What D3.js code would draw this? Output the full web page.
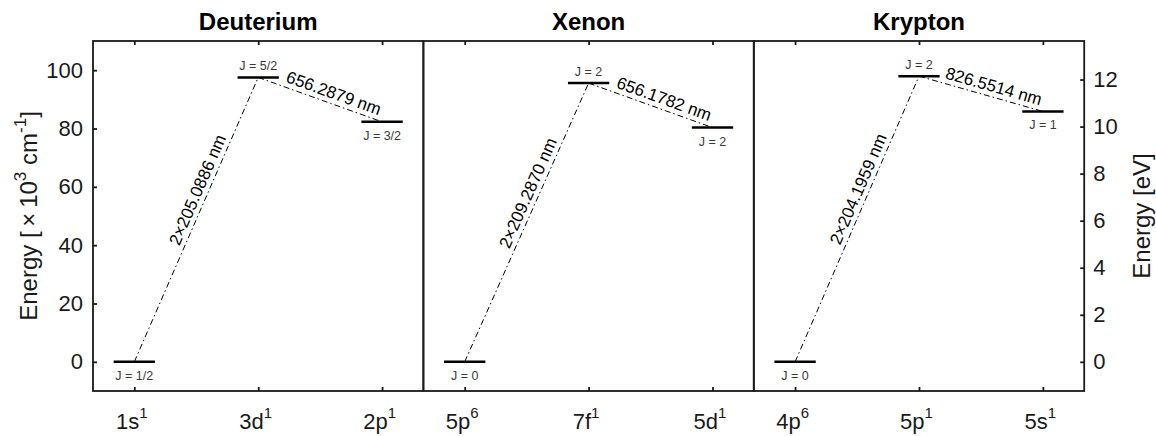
<!DOCTYPE html>
<html>
<head>
<meta charset="utf-8">
<script src="https://cdn.jsdelivr.net/npm/d3@7"></script>
<style>
  html, body { margin: 0; padding: 0; background: #fff; }
  svg { display: block; font-family: "Liberation Sans", Arial, Helvetica, sans-serif; }
</style>
</head>
<body>
<svg id="chart" width="1156" height="436"></svg>
<script>
// ---- data ----
const panelTitles = ["Deuterium", "Xenon", "Krypton"];
const orbitals = [["1s", "3d", "2p"], ["5p", "7f", "5d"], ["4p", "5p", "5s"]];
const occupancy = [["1", "1", "1"], ["6", "1", "1"], ["6", "1", "1"]];
const levelPositions = [1, 2, 3];
// energies in 10^3 cm^-1
const energies = [[0, 97.52, 82.28], [0, 95.56, 80.32], [0, 97.95, 85.85]];
const jLabels = [["J = 1/2", "J = 5/2", "J = 3/2"], ["J = 0", "J = 2", "J = 2"], ["J = 0", "J = 2", "J = 1"]];
const uvLabels = ["2×205.0886 nm", "2×209.2870 nm", "2×204.1959 nm"];
const visLabels = ["656.2879 nm", "656.1782 nm", "826.5514 nm"];
const yTicks = [0, 20, 40, 60, 80, 100];
const eVTicks = [0, 2, 4, 6, 8, 10, 12];
const yDomain = [-10, 110];
const xDomain = [2 / 3, 10 / 3];
const kcmPerEV = 8.06554; // 10^3 cm^-1 per eV

// ---- layout ----
const svg = d3.select("#chart");
const plotLeft = 93, panelW = 330.4, plotTop = 41, plotBottom = 391;
const axisColor = "#1a1a1a";
const y = d3.scaleLinear().domain(yDomain).range([plotBottom, plotTop]);
const yEV = d3.scaleLinear().domain(yDomain.map(v => v / kcmPerEV)).range([plotBottom, plotTop]);
const halfLevel = 1 / 6;

panelTitles.forEach((title, p) => {
  const x0 = plotLeft + p * panelW;
  const x = d3.scaleLinear().domain(xDomain).range([x0, x0 + panelW]);
  const g = svg.append("g");

  // bottom axis (inward ticks)
  const gb = g.append("g").attr("transform", `translate(0,${plotBottom})`)
    .call(d3.axisBottom(x).tickValues(levelPositions).tickSize(-4).tickPadding(22).tickFormat(""));
  gb.select(".domain").remove();
  gb.selectAll(".tick line").attr("stroke", axisColor).attr("stroke-width", 1.8);
  gb.selectAll(".tick text").each(function (d, i) {
    const t = d3.select(this);
    t.attr("font-size", 22).attr("fill", axisColor).attr("font-family", "Liberation Sans, Arial, sans-serif")
      .attr("x", -3);
    t.append("tspan").text(orbitals[p][i]);
    t.append("tspan").attr("font-size", 15).attr("dy", -11).text(occupancy[p][i]);
  });

  // top axis ticks
  const gt = g.append("g").attr("transform", `translate(0,${plotTop})`)
    .call(d3.axisTop(x).tickValues(levelPositions).tickSize(-4).tickFormat(""));
  gt.select(".domain").remove();
  gt.selectAll(".tick line").attr("stroke", axisColor).attr("stroke-width", 1.8);

  if (p === 0) {
    const gl = g.append("g").attr("transform", `translate(${x0},0)`)
      .call(d3.axisLeft(y).tickValues(yTicks).tickSize(-4).tickPadding(10));
    gl.select(".domain").remove();
    gl.selectAll(".tick line").attr("stroke", axisColor).attr("stroke-width", 1.8);
    gl.selectAll(".tick text").attr("font-size", 22).attr("fill", axisColor)
      .attr("font-family", "Liberation Sans, Arial, sans-serif");
  }
  if (p === 2) {
    const gr = g.append("g").attr("transform", `translate(${x0 + panelW},0)`)
      .call(d3.axisRight(yEV).tickValues(eVTicks).tickSize(-4).tickPadding(9));
    gr.select(".domain").remove();
    gr.selectAll(".tick line").attr("stroke", axisColor).attr("stroke-width", 1.8);
    gr.selectAll(".tick text").attr("font-size", 22).attr("fill", axisColor)
      .attr("font-family", "Liberation Sans, Arial, sans-serif");
  }

  // frame
  g.append("rect").attr("x", x0).attr("y", plotTop).attr("width", panelW).attr("height", plotBottom - plotTop)
    .attr("fill", "none").attr("stroke", axisColor).attr("stroke-width", 1.8);

  // title
  g.append("text").attr("x", x0 + panelW / 2).attr("y", 30).attr("text-anchor", "middle")
    .attr("font-size", 24).attr("font-weight", "bold").attr("fill", "#000").text(title);

  // transitions
  const pts = levelPositions.map((lp, i) => [x(lp), y(energies[p][i])]);
  [[0, 1, uvLabels[p], 0.59], [1, 2, visLabels[p], 0.58]].forEach(([a, b, label, f]) => {
    g.append("line").attr("x1", pts[a][0]).attr("y1", pts[a][1]).attr("x2", pts[b][0]).attr("y2", pts[b][1])
      .attr("stroke", "#000").attr("stroke-width", 1).attr("stroke-dasharray", "6,3,1.5,3");
    const dx = pts[b][0] - pts[a][0], dy = pts[b][1] - pts[a][1];
    const ang = Math.atan2(dy, dx) * 180 / Math.PI;
    const px = pts[a][0] + f * dx, py = pts[a][1] + f * dy;
    g.append("text").attr("transform", `translate(${px},${py}) rotate(${ang})`)
      .attr("y", -5).attr("text-anchor", "middle").attr("font-size", 17).attr("fill", "#000").text(label);
  });

  // levels
  levelPositions.forEach((lp, i) => {
    const e = energies[p][i];
    g.append("line").attr("x1", x(lp - halfLevel)).attr("x2", x(lp + halfLevel))
      .attr("y1", y(e)).attr("y2", y(e)).attr("stroke", "#000").attr("stroke-width", 2.5);
    const above = i === 1;
    g.append("text").attr("x", x(lp)).attr("y", above ? y(e) - 7 : y(e) + 18)
      .attr("text-anchor", "middle").attr("font-size", 12.5).attr("fill", "#3a3a3a").text(jLabels[p][i]);
  });
});

// left y label
const yl = svg.append("text").attr("transform", `translate(37,${(plotTop + plotBottom) / 2}) rotate(-90)`)
  .attr("text-anchor", "middle").attr("font-size", 24).attr("fill", axisColor);
yl.append("tspan").text("Energy [\u2009×\u200910");
yl.append("tspan").attr("font-size", 17).attr("dy", -11).text("3");
yl.append("tspan").attr("dy", 11).text(" cm");
yl.append("tspan").attr("font-size", 17).attr("dy", -11).text("-1");
yl.append("tspan").attr("dy", 11).text("]");

// right y label
svg.append("text").attr("transform", `translate(1150,${(plotTop + plotBottom) / 2}) rotate(-90)`)
  .attr("text-anchor", "middle").attr("font-size", 24).attr("fill", axisColor).text("Energy [eV]");
</script>
</body>
</html>
